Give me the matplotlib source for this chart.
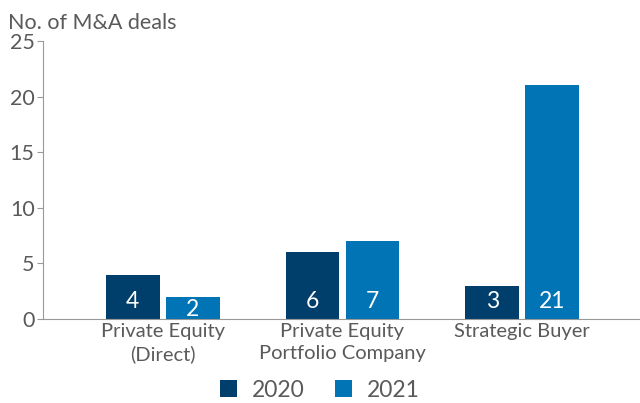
import matplotlib.pyplot as plt
import numpy as np

# data
categories = ["Private Equity\n(Direct)", "Private Equity\nPortfolio Company", "Strategic Buyer"]
deals_2020 = [4, 6, 3]
deals_2021 = [2, 7, 21]
years = ["2020", "2021"]

dark = "#003f6b"
blue = "#0074b5"
grey = "#5a5a5a"

plt.rcParams['font.family'] = ['Lato', 'DejaVu Sans']

fig = plt.figure(figsize=(6.4, 4.03), dpi=100)
ax = fig.add_axes([43/640, 1-319/403, 1-43/640, (319-41)/403])

x = np.arange(len(categories))
w = 0.3
off = 0.167
b1 = ax.bar(x - off, deals_2020, w, color=dark, label=years[0])
b2 = ax.bar(x + off, deals_2021, w, color=blue, label=years[1])

px_per_unit = 278 / 25
for bars, vals in [(b1, deals_2020), (b2, deals_2021)]:
    for r, v in zip(bars, vals):
        # label sits near the base, pushed down for short bars
        base_px = min(11, v * px_per_unit - 19)
        ax.annotate(str(v), (r.get_x() + r.get_width()/2, 0), xytext=(0, base_px * 0.72),
                    textcoords="offset points", ha="center", va="baseline",
                    color="white", fontsize=16.5)

ax.set_xlim(-0.667, 2.656)
ax.set_ylim(0, 25)
ax.set_yticks([0, 5, 10, 15, 20, 25])
ax.set_xticks(x)
ax.set_xticklabels(categories, fontsize=14.5, color=grey, linespacing=1.35)
ax.tick_params(axis="y", labelsize=15.5, labelcolor=grey, color="#999999", length=4, pad=2)
ax.tick_params(axis="x", length=0, pad=3)

for s in ["top", "right"]:
    ax.spines[s].set_visible(False)
ax.spines["left"].set_color("#999999")
ax.spines["bottom"].set_color("#999999")

fig.text(8/640, 1-29/403, "No. of M&A deals", fontsize=15.5, color=grey, va="baseline")

fig.legend(loc="lower center", bbox_to_anchor=(0.5, -0.045), ncol=2, frameon=False,
           fontsize=16.5, labelcolor=grey, handlelength=0.75, handleheight=0.75,
           columnspacing=1.3, handletextpad=0.65)

fig.savefig("out.png", dpi=100)
